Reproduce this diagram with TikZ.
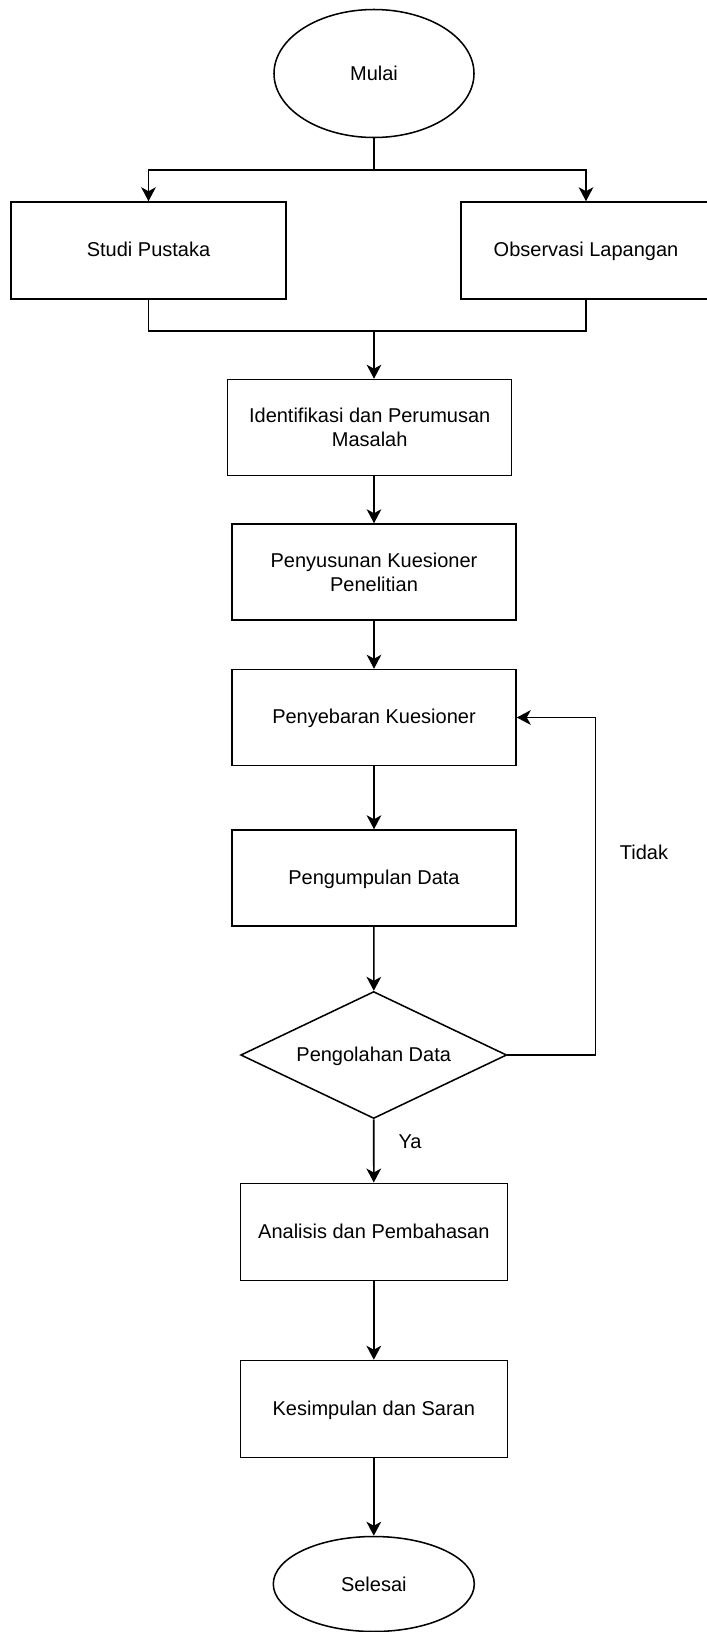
\documentclass[tikz,border=0pt]{standalone}
\usepackage{fontspec}
\setmainfont{Liberation Sans}
\usetikzlibrary{shapes.geometric, arrows.meta}

\begin{document}
\begin{tikzpicture}[x=0.75pt, y=-0.75pt, line width=1.15pt,
    font=\fontsize{15pt}{18pt}\selectfont,
    box/.style={draw, rectangle, align=center, minimum width=213pt, minimum height=72pt, inner sep=0pt},
    single/.style={text height=12.5pt, text depth=3.2pt},
    oval/.style={draw, ellipse, minimum width=150pt, minimum height=96pt, inner sep=0pt},
    arr/.style={-{Stealth[length=10.5pt, width=11pt, inset=3pt]}}]
    \useasboundingbox (0,0) rectangle (707,1632);
    \node[oval] (mulai) at (374,73.5) {Mulai};
    \node[box, single, minimum width=206.25pt, minimum height=72.75pt] (studi) at (148.5,250.5) {Studi Pustaka};
    \node[box, single, minimum width=187.5pt, minimum height=72.75pt] (obs) at (586,250.5) {Observasi Lapangan};
    \node[box] (ident) at (369.7,427.5) {Identifikasi dan Perumusan\\Masalah};
    \node[box] (susun) at (374,572) {Penyusunan Kuesioner\\Penelitian};
    \node[box, single] (sebar) at (374,717.5) {Penyebaran Kuesioner};
    \node[box, single] (kumpul) at (374,878) {Pengumpulan Data};
    \node[draw, diamond, single, shape aspect=2.1, minimum width=199.5pt, minimum height=95.25pt, inner sep=0pt] (olah) at (373.7,1055) {Pengolahan Data};
    \node[box, single, minimum width=200.25pt, minimum height=72.75pt] (analisis) at (373.8,1231.8) {Analisis dan Pembahasan};
    \node[box, single, minimum width=200.25pt, minimum height=72.75pt] (simpul) at (373.8,1409) {Kesimpulan dan Saran};
    \node[oval, minimum width=150.75pt, minimum height=71.25pt] (selesai) at (373.8,1584) {Selesai};
    \node[single] (tidak) at (644,853) {Tidak};
    \node (ya) at (410,1142) {Ya};
    \coordinate (split) at (374,170);
    \coordinate (merge) at (374,331);
    \draw (mulai.south) -- (split);
    \draw[arr] (split) -| (studi.north);
    \draw[arr] (split) -| (obs.north);
    \draw (studi.south) |- (merge);
    \draw (obs.south) |- (merge);
    \draw[arr, line width=1.5pt] (merge) -- (merge |- ident.north);
    \draw[arr] (susun.north |- ident.south) -- (susun.north);
    \draw[arr] (susun) -- (sebar);
    \draw[arr] (sebar) -- (kumpul);
    \draw[arr] (kumpul) -- (olah);
    \draw[arr] (olah.east) -- ++(88,0) |- (sebar.east);
    \draw[arr] (olah) -- (analisis);
    \draw[arr] (analisis) -- (simpul);
    \draw[arr] (simpul) -- (selesai);
\end{tikzpicture}
\end{document}
